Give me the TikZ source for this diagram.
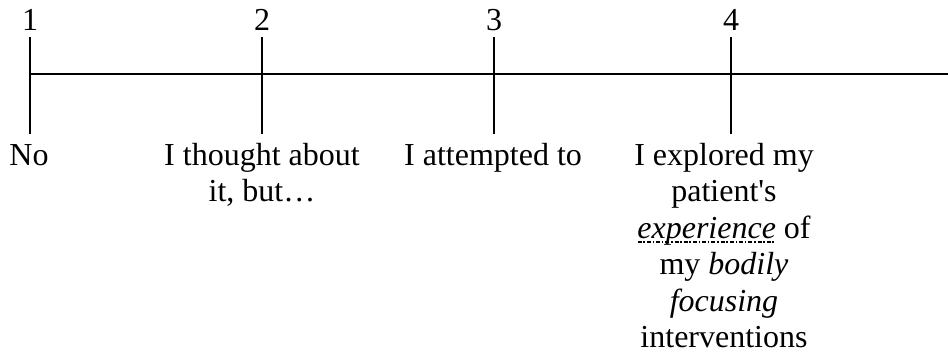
\documentclass[tikz,border=0pt]{standalone}
\usepackage{fontspec}
\setmainfont{Liberation Serif}
\newcommand\ddul[1]{\setbox0=\hbox{#1}\leavevmode\rlap{\raisebox{-5pt}{\hbox to \wd0{\xleaders\hbox{\rule{4pt}{1.8pt}\hspace{1.6pt}\rule{1.6pt}{1.8pt}\hspace{1.6pt}}\hfill}}}\copy0\relax}
\begin{document}
\begin{tikzpicture}[x=1pt,y=-1pt,
  axis/.style={line width=2.4pt},
  num/.style={font=\fontsize{32}{36.5}\selectfont, inner sep=0pt, anchor=base},
  lab/.style={font=\fontsize{32}{36.5}\selectfont, inner sep=0pt, align=center, anchor=base}]
\useasboundingbox (0,0) rectangle (948,356);
% axis
\coordinate (axL) at (30,74);
\coordinate (axR) at (948,74);
\draw[axis] (axL) -- (axR);
% ticks
\foreach \i/\x in {1/30,2/262,3/494,4/731}{
  \coordinate (top\i) at (\x,37);
  \coordinate (bot\i) at (\x,134);
  \draw[axis] (top\i) -- (bot\i);
  \node[num] (n\i) at (\x,30) {\i};
}
% labels (base anchor = baseline of last line)
\node[lab] (l1) at (29,165) {No};
\node[lab] (l2) at (262,201.5) {I thought about\\it, but…};
\node[lab] (l3) at (493,165) {I attempted to};
\node[lab] (l4) at (724,347.5) {I explored my\\patient\textquotesingle s\\\ddul{\textit{experience}} of\\my \textit{bodily}\\\textit{focusing}\\interventions};
\end{tikzpicture}
\end{document}
